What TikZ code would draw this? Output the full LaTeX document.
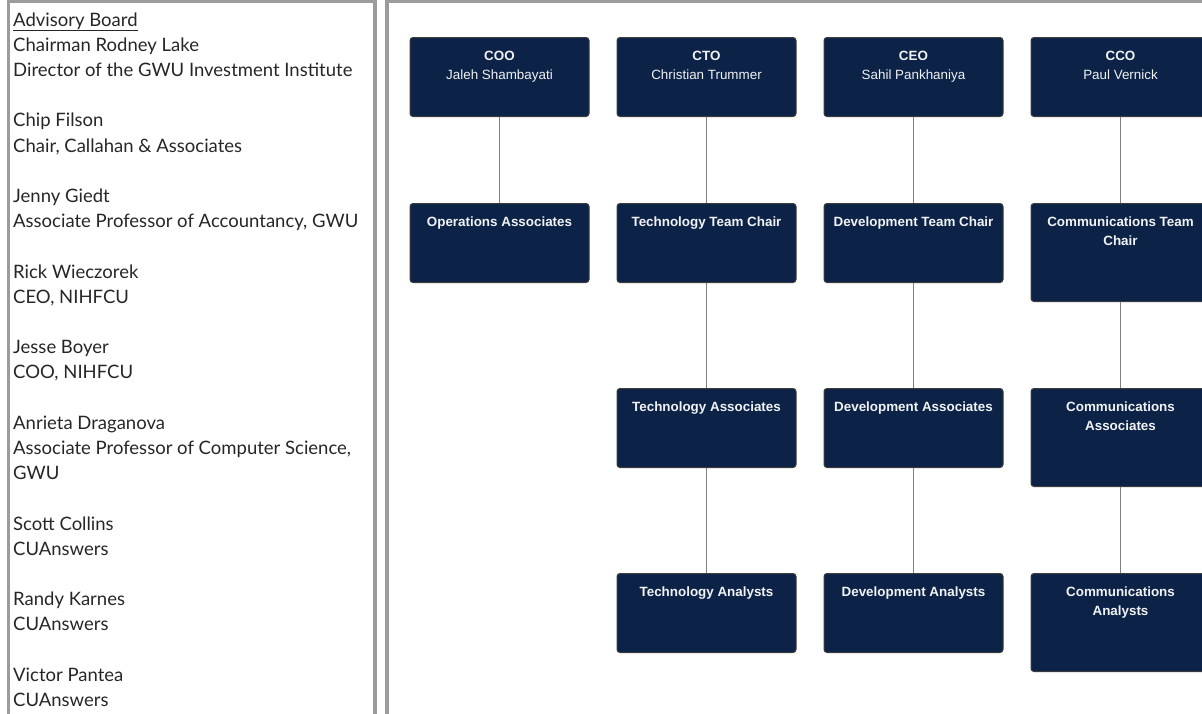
\documentclass[tikz,border=0pt]{standalone}
\usepackage{fontspec}
\setmainfont{Lato}
\newfontfamily\chartfont{Liberation Sans}
\usetikzlibrary{positioning}

\definecolor{navy}{HTML}{0C2347}
\definecolor{boxedge}{HTML}{3C3C3C}
\definecolor{linkgray}{HTML}{7F7F7F}
\definecolor{framegray}{HTML}{9C9C9C}

\begin{document}
\begin{tikzpicture}[x=1pt,y=-1pt,
    orgbox/.style={draw=boxedge,fill=navy,rounded corners=3pt,line width=1pt,
        minimum width=179pt,minimum height=79pt,inner sep=0pt,anchor=north},
    tallbox/.style={orgbox,minimum height=98pt},
    boxlbl/.style={anchor=north,yshift=-14pt,inner sep=0pt,text=white!94!navy,align=center,
        font=\chartfont\fontsize{13.4}{19}\selectfont\bfseries},
    link/.style={draw=linkgray,line width=1.5pt},
    panel/.style={draw=framegray,line width=3.5pt},
    board/.style={anchor=base west,inner sep=0pt,text=black!85,
        font=\fontsize{18.5}{20}\selectfont}]

                \useasboundingbox (0,0) rectangle (1202,713);

                % the two panels
                \draw[panel] (8.5,730) |- (375,1.5) -- (375,730);
                \draw[panel] (387,730) |- (1215,1.5);

                % advisory board list
                \foreach \i/\txt in {0/\underline{Advisory Board}, 1/Chairman Rodney Lake,
                    2/Director of the GWU Investment Institute, 4/Chip Filson,
                    5/{Chair, Callahan \& Associates}, 7/Jenny Giedt,
                    8/{Associate Professor of Accountancy, GWU}, 10/Rick Wieczorek,
                    11/{CEO, NIHFCU}, 13/Jesse Boyer, 14/{COO, NIHFCU},
                    16/Anrieta Draganova, 17/{Associate Professor of Computer Science,},
                    18/GWU, 20/Scott Collins, 21/CUAnswers, 23/Randy Karnes,
                    24/CUAnswers, 26/Victor Pantea, 27/CUAnswers}
                    {
                    \node[board] (ab\i) at (13,26+25.2*\i) {\txt};
                    }

                % officers
                \node[orgbox,label={[boxlbl]north:{COO\\\mdseries Jaleh Shambayati}}] (coo) at (499.5,37) {};

                \node[orgbox,label={[boxlbl]north:{CTO\\\mdseries Christian Trummer}}] (cto) [right=27pt of coo] {};

                \node[orgbox,label={[boxlbl]north:{CEO\\\mdseries Sahil Pankhaniya}}] (ceo) [right=27pt of cto] {};

                \node[orgbox,label={[boxlbl]north:{CCO\\\mdseries Paul Vernick}}] (cco) [right=27pt of ceo] {};

                % teams
                \node[orgbox,label={[boxlbl]north:Operations Associates}] (opsassoc) [below=86pt of coo] {};

                \node[orgbox,label={[boxlbl]north:Technology Team Chair}] (techchair) [below=86pt of cto] {};

                \node[orgbox,label={[boxlbl]north:Development Team Chair}] (devchair) [below=86pt of ceo] {};

                \node[tallbox,label={[boxlbl]north:{Communications Team\\Chair}}] (comchair) [below=86pt of cco] {};

                \node[orgbox,label={[boxlbl]north:Technology Associates}] (techassoc) [below=105pt of techchair] {};

                \node[orgbox,label={[boxlbl]north:Development Associates}] (devassoc) [below=105pt of devchair] {};

                \node[tallbox,label={[boxlbl]north:{Communications\\Associates}}] (comassoc) [below=86pt of comchair] {};

                \node[orgbox,label={[boxlbl]north:Technology Analysts}] (techanal) [below=105pt of techassoc] {};

                \node[orgbox,label={[boxlbl]north:Development Analysts}] (devanal) [below=105pt of devassoc] {};

                \node[tallbox,label={[boxlbl]north:{Communications\\Analysts}}] (companal) [below=86pt of comassoc] {};

                \foreach \from/\to in {coo/opsassoc, cto/techchair, ceo/devchair, cco/comchair,
                    techchair/techassoc, devchair/devassoc, comchair/comassoc,
                    techassoc/techanal, devassoc/devanal, comassoc/companal}
                    {
                    \path[link] (\from) -- (\to);
                    }

\end{tikzpicture}
\end{document}
